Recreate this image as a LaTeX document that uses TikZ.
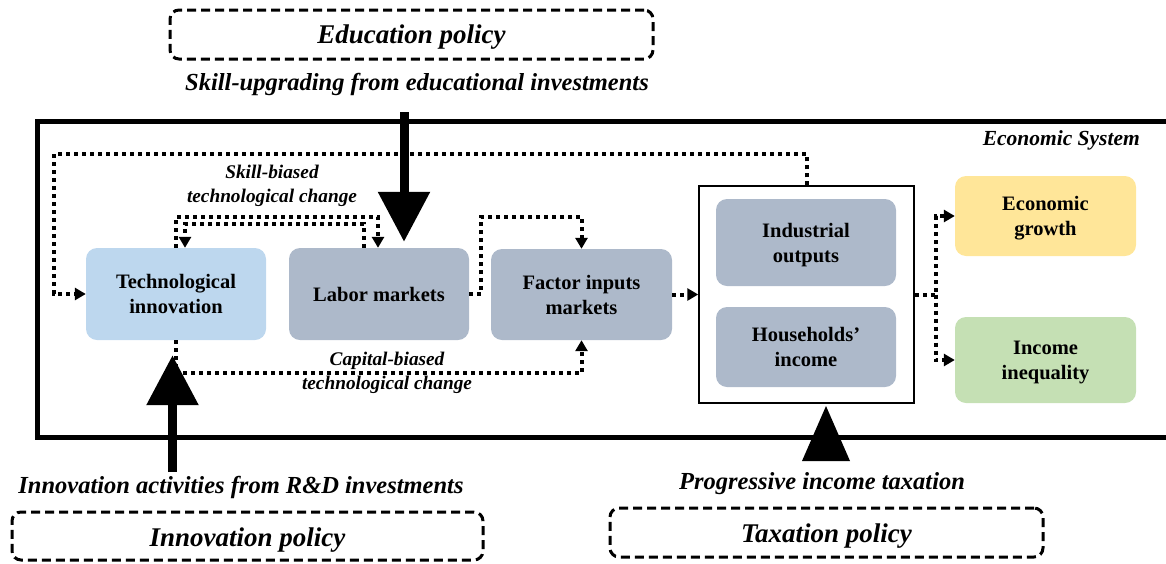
\documentclass[tikz,border=0pt]{standalone}
\usepackage{fontspec}
\setmainfont{Liberation Serif}
\usetikzlibrary{arrows.meta,calc}
\definecolor{techblue}{HTML}{BDD7EE}
\definecolor{greyblue}{HTML}{ADB9CA}
\definecolor{yel}{HTML}{FFE699}
\definecolor{grn}{HTML}{C5E0B4}
\newcommand{\twolines}[2]{\raisebox{-2pt}[\height][\depth]{\begin{tabular}{@{}c@{}}#1\\#2\end{tabular}}}
\newcommand{\lowertext}[2]{\raisebox{-#1}[\height][\depth]{#2}}
\tikzset{
  boxnode/.style={rounded corners=11pt, minimum width=180pt, minimum height=92pt, align=center,
    font=\fontsize{20.5}{25}\selectfont\bfseries, inner sep=0pt},
  policy/.style={draw, line width=3pt, dash pattern=on 9pt off 5pt, rounded corners=9pt,
    font=\fontsize{27}{30}\selectfont\bfseries\itshape, inner sep=0pt},
  biglabel/.style={font=\fontsize{24.5}{28}\selectfont\bfseries\itshape, inner sep=0pt},
  smalllabel/.style={font=\fontsize{19.3}{24.5}\selectfont\bfseries\itshape, align=center, inner sep=0pt},
  dotc/.style={line width=4pt, dash pattern=on 4pt off 4pt, -{Triangle[length=11pt,width=12pt]}},
  bigarr/.style={line width=9pt, -{Triangle[length=50pt,width=50pt]}},
}
\begin{document}
\begin{tikzpicture}[x=1pt,y=-1pt]
\useasboundingbox (0,0) rectangle (1166,563);
\clip (0,0) rectangle (1166,563);
% economic system frame
\draw[line width=5pt] (37,121) rectangle (1190,437);
\node[font=\fontsize{21.5}{24}\selectfont\bfseries\itshape, anchor=east, inner sep=0pt] (ecosys) at (1140,140) {Economic System};

% policy boxes and labels
\node[policy, minimum width=483pt, minimum height=49pt] (edu) at (411.5,34.5) {\lowertext{3pt}{Education policy}};
\node[biglabel] (skilltxt) at (417,84) {Skill-upgrading from educational investments};
\node[biglabel] (innovtxt) at (241,487) {Innovation activities from R\&D investments};
\node[policy, minimum width=471pt, minimum height=48pt] (innov) at (247.5,536) {\lowertext{4pt}{Innovation policy}};
\node[biglabel] (taxtxt) at (822,484) {Progressive income taxation};
\node[policy, minimum width=433pt, minimum height=49pt] (tax) at (826.5,532.5) {\lowertext{4pt}{Taxation policy}};

% main boxes
\node[boxnode, fill=techblue] (tech) at (176,294) {\twolines{Technological}{innovation}};
\node[boxnode, fill=greyblue] (labor) at (379,294) {Labor markets};
\node[boxnode, fill=greyblue, minimum width=181pt, minimum height=91pt] (factor) at (581.5,294.5) {\twolines{Factor inputs}{markets}};
\node[draw, line width=1.5pt, minimum width=215pt, minimum height=217pt, inner sep=0pt] (outbox) at (806.5,294.5) {};
\node[boxnode, fill=greyblue, minimum height=87pt] (indus) at (806,242.5) {\twolines{Industrial}{outputs}};
\node[boxnode, fill=greyblue, minimum height=80pt] (house) at (806,347) {\twolines{Households'}{income}};
\node[boxnode, fill=yel, minimum width=181pt, minimum height=80pt] (growth) at (1045.5,216) {\twolines{Economic}{growth}};
\node[boxnode, fill=grn, minimum width=181pt, minimum height=86pt] (ineq) at (1045.5,360) {\twolines{Income}{inequality}};

% labels of connectors
\node[smalllabel] (skb) at (272,186) {Skill-biased\\technological change};
\node[smalllabel] (cpb) at (387,373) {Capital-biased\\technological change};

% dotted connectors
\draw[dotc] (outbox.north) |- (54,154) |- (tech.west);
\draw[dotc] (tech.north) -- ++(0,-31) -| ($(labor.north)+(-1,0)$);
\draw[dotc] ($(labor.north)+(-15,0)$) -- ++(0,-24) -| ($(tech.north)+(9,0)$);
\draw[dotc] (labor.east) -- ++(12,0) |- ($(factor.north)+(0,-32)$) -- (factor.north);
\draw[dotc] (tech.south) |- ($(factor.south)+(0,33)$) -- (factor.south);
\draw[dotc] (factor.east) -- (outbox.west);
\draw[dotc] (outbox.east) -- ++(21,0) |- (growth.west);
\draw[dotc] ($(outbox.east)+(21,0)$) |- (ineq.west);

% thick policy arrows
\coordinate (eduS) at (404,112);
\draw[bigarr] (eduS) -- ($(labor.north)+(25,-6)$);
\coordinate (innovS) at (172.5,472);
\draw[bigarr] (innovS) -- ($(tech.south)+(-3.5,15)$);
\coordinate (taxT) at (826,406);
\fill (taxT) -- ++(24,55) -- ++(-48,0) -- cycle;
\end{tikzpicture}
\end{document}
